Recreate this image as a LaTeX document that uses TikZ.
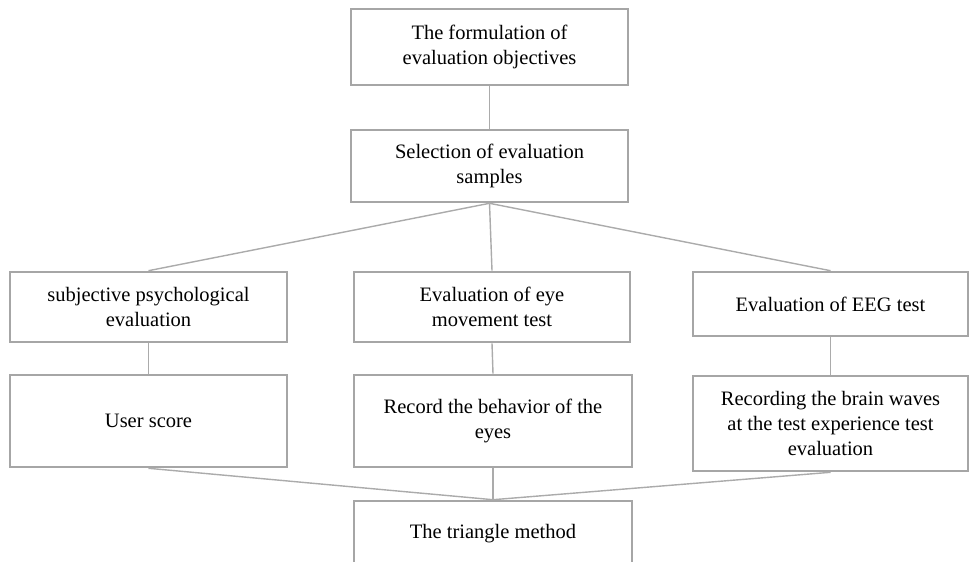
\documentclass[tikz,border=0pt]{standalone}
\usepackage{fontspec}
\setmainfont{Liberation Serif}
\definecolor{boxgray}{HTML}{A6A6A6}
\definecolor{linegray}{HTML}{ABABAB}
\begin{document}
\begin{tikzpicture}[x=1pt,y=-1pt,
  stepbox/.style={draw=boxgray, line width=2.6pt, fill=white, rectangle, inner sep=0pt,
    align=center, font=\fontsize{20.5}{25}\selectfont, text=black},
  conn/.style={draw=linegray, line width=1.4pt}]
\useasboundingbox (0,0) rectangle (969,562);
\node[stepbox, minimum width=277pt, minimum height=76pt] (b1) at (489.5,47) {The formulation of\\evaluation objectives};
\node[stepbox, minimum width=277pt, minimum height=72pt] (b2) at (489.5,166) {Selection of evaluation\\samples};
\node[stepbox, minimum width=277pt, minimum height=70pt] (b3) at (148.5,307) {subjective psychological\\evaluation};
\node[stepbox, minimum width=276pt, minimum height=70pt] (b4) at (492,307) {Evaluation of eye\\movement test};
\node[stepbox, minimum width=275pt, minimum height=64pt] (b5) at (830.5,304) {Evaluation of EEG test};
\node[stepbox, minimum width=277pt, minimum height=92pt] (b6) at (148.5,421) {User score};
\node[stepbox, minimum width=278pt, minimum height=92pt] (b7) at (493,421) {Record the behavior of the\\eyes};
\node[stepbox, minimum width=275pt, minimum height=95pt] (b8) at (830.5,423.5) {Recording the brain waves\\at the test experience test\\evaluation};
\node[stepbox, minimum width=278pt, minimum height=65pt] (b9) at (493,533.5) {The triangle method};
\draw[conn] (b1.south) -- (b2.north);
\draw[conn] (b2.south) -- (b3.north);
\draw[conn] (b2.south) -- (b4.north);
\draw[conn] (b2.south) -- (b5.north);
\draw[conn] (b3.south) -- (b6.north);
\draw[conn] (b4.south) -- (b7.north);
\draw[conn] (b5.south) -- (b8.north);
\draw[conn] (b6.south) -- (b9.north);
\draw[conn] (b7.south) -- (b9.north);
\draw[conn] (b8.south) -- (b9.north);
\end{tikzpicture}
\end{document}
